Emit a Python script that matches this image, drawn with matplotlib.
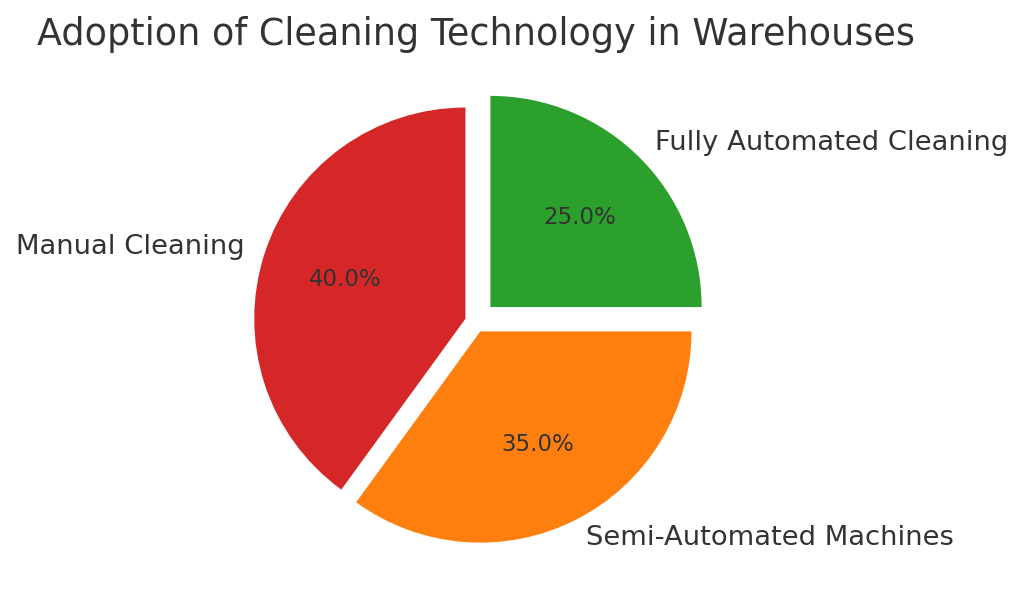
import matplotlib
matplotlib.use("Agg")
import matplotlib.pyplot as plt

categories = ["Manual Cleaning", "Semi-Automated Machines", "Fully Automated Cleaning"]
shares = [40, 35, 25]
colors = ["#d62728", "#ff7f0e", "#2ca02c"]
explode = [0.05, 0.05, 0.1]
title = "Adoption of Cleaning Technology in Warehouses"

W, H = 1024, 603
fig = plt.figure(figsize=(W / 100, H / 100), dpi=100)
fig.patch.set_facecolor("white")

size_px = 528
cx, cy = 475.5, 322
ax = fig.add_axes([(cx - size_px / 2) / W, (H - cy - size_px / 2) / H, size_px / W, size_px / H])

text_color = "#333333"
wedges, texts, autotexts = ax.pie(
    shares,
    labels=categories,
    colors=colors,
    explode=explode,
    startangle=90,
    autopct="%1.1f%%",
    pctdistance=0.6,
    labeldistance=1.1,
    textprops={"fontsize": 19.7, "color": text_color},
)
for t in autotexts:
    t.set_fontsize(16.5)
    t.set_color(text_color)
ax.set_aspect("equal")

fig.text(cx / W, 1 - 45 / H, title, ha="center", va="baseline", fontsize=26.3, color=text_color)

fig.savefig("out.png", dpi=100, facecolor="white")
